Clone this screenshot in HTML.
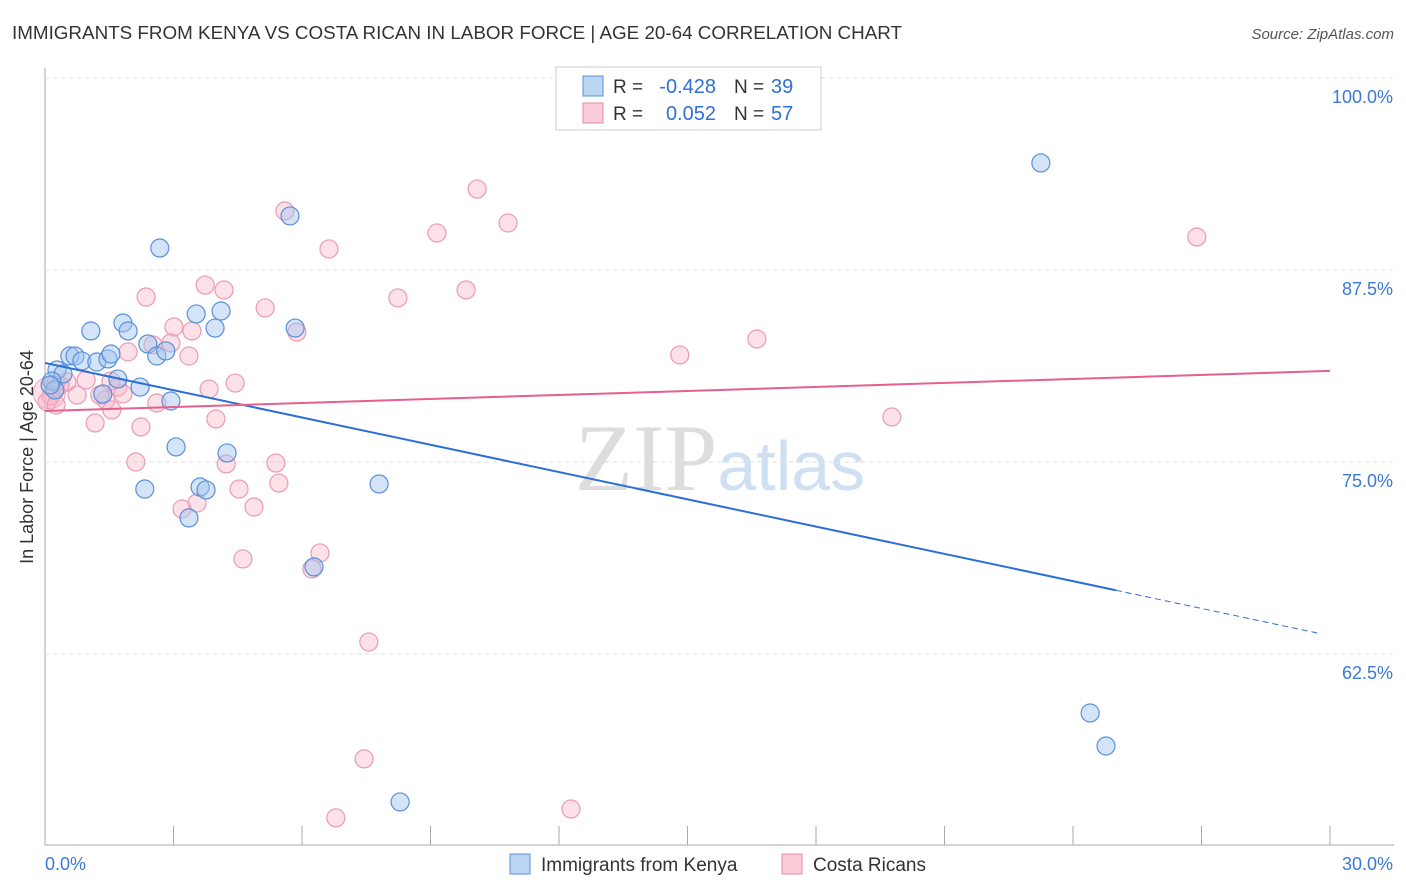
<!DOCTYPE html>
<html><head><meta charset="utf-8"><style>
body{margin:0;background:#fff;font-family:"Liberation Sans",sans-serif}
svg{display:block}
</style></head><body>
<svg id="c" width="1406" height="892">
<text x="12" y="39" font-size="18" fill="#333" textLength="890" lengthAdjust="spacingAndGlyphs">IMMIGRANTS FROM KENYA VS COSTA RICAN IN LABOR FORCE | AGE 20-64 CORRELATION CHART</text>
<text x="1394" y="39" font-size="15" fill="#555" font-style="italic" text-anchor="end">Source: ZipAtlas.com</text>
<text x="720" y="490" font-size="95" fill="#ddd" text-anchor="middle" font-family="Liberation Serif,serif">ZIP<tspan fill="#cfe0f3" font-family="Liberation Sans,sans-serif" font-size="70">atlas</tspan></text>
<g id="grid"></g><g id="pts"></g><g id="lines"></g>
<text transform="translate(33,457) rotate(-90)" font-size="18" fill="#333" text-anchor="middle">In Labor Force | Age 20-64</text>
<g>
<rect x="556" y="67" width="265" height="63" fill="#fff" stroke="#ccc"/>
<rect x="583" y="76" width="20" height="20" fill="#bcd5f5" stroke="#5a8fd8"/>
<rect x="583" y="103" width="20" height="20" fill="#fbcdd9" stroke="#e887a5"/>
<text x="613" y="93" font-size="19" fill="#333">R =</text>
<text x="716" y="93" font-size="20" fill="#2f6fd8" text-anchor="end">-0.428</text>
<text x="734" y="93" font-size="19" fill="#333">N =</text>
<text x="771" y="93" font-size="20" fill="#2f6fd8">39</text>
<text x="613" y="120" font-size="19" fill="#333">R =</text>
<text x="716" y="120" font-size="20" fill="#2f6fd8" text-anchor="end">0.052</text>
<text x="734" y="120" font-size="19" fill="#333">N =</text>
<text x="771" y="120" font-size="20" fill="#2f6fd8">57</text>
</g>
<g>
<rect x="510" y="854" width="20" height="20" fill="#bcd5f5" stroke="#5a8fd8"/>
<text x="541" y="871" font-size="19" fill="#333">Immigrants from Kenya</text>
<rect x="782" y="854" width="20" height="20" fill="#fbcdd9" stroke="#e887a5"/>
<text x="813" y="871" font-size="19" fill="#333">Costa Ricans</text>
</g>
</svg>
<script>
const blueX=[23.25,5.72,2.68,1.07,1.82,1.94,3.53,4.11,3.97,5.84,0.58,0.70,0.86,1.21,1.47,1.54,2.40,2.61,2.82,0.28,0.42,1.70,2.22,1.35,2.94,0.16,0.23,3.06,4.25,2.33,3.62,3.76,3.36,7.80,6.28,8.29,24.40,24.77,0.12];
const blueY=[94.47,91.02,88.93,83.53,84.05,83.53,84.64,84.83,83.72,83.72,81.90,81.90,81.58,81.51,81.71,82.03,82.68,81.90,82.23,80.99,80.73,80.40,79.88,79.43,78.97,80.27,79.69,75.98,75.59,73.24,73.37,73.18,71.36,73.57,68.17,52.87,58.66,56.51,80.01];
const pinkX=[5.60,10.09,10.81,9.15,6.63,26.89,3.74,4.18,2.36,9.83,8.24,5.14,3.01,3.43,5.88,16.62,2.94,2.52,1.94,3.36,14.82,0.26,0.51,0.96,1.54,1.70,4.44,3.83,1.82,0.75,1.42,2.61,1.56,1.17,2.24,3.99,19.77,0.14,0.05,0.26,2.12,4.23,5.39,4.53,5.46,3.20,3.55,4.88,4.62,6.42,6.23,7.56,7.45,12.28,6.79,0.35,1.28];
const pinkY=[91.34,92.77,90.56,89.91,88.87,89.65,86.52,86.20,85.74,86.20,85.68,85.03,83.79,83.53,83.46,83.01,82.75,82.62,82.16,81.90,81.97,80.14,80.21,80.34,80.27,79.88,80.14,79.75,79.43,79.36,79.04,78.84,78.39,77.54,77.28,77.80,77.93,79.30,78.91,78.71,75.00,74.87,74.93,73.24,73.63,71.94,72.33,72.07,68.69,69.08,68.04,63.28,55.67,52.41,51.83,80.01,79.36];
const yTicks=[100,87.5,75,62.5];
const yTickLabels=["100.0%","87.5%","75.0%","62.5%"];
const blueTrend=[81.45,-0.592,25.0,29.8];
const pinkTrend=[78.32,0.087,30];
const NS="http://www.w3.org/2000/svg";
const X=v=>45+v*1285/30, Y=v=>78+(100-v)*192/12.5;
function mk(t,a,p){const e=document.createElementNS(NS,t);for(const k in a)e.setAttribute(k,a[k]);p.appendChild(e);return e;}
const g=document.getElementById('grid');
let ax=mk('line',{x1:45,y1:68,x2:45,y2:845,stroke:'#aaa'},g);


let bx=mk('line',{x1:45,y1:845,x2:1394,y2:845,stroke:'#aaa'},g);


for(let i=0;i<=10;i++){let t=mk('line',{x1:X(i*3),x2:X(i*3),y1:826,y2:845,stroke:'#aaa'},g);

}
yTicks.forEach((v,i)=>{let l=mk('line',{x1:45,x2:1394,y1:Y(v),y2:Y(v),stroke:'#ddd','stroke-dasharray':'4 4'},g);


let t=mk('text',{x:1393,y:Y(v)+25,'font-size':18,fill:'#3b78d8','text-anchor':'end'},g);t.textContent=yTickLabels[i];

});
let x0=mk('text',{x:45,y:870,'font-size':18,fill:'#3b78d8'},g);x0.textContent="0.0%";


let x1=mk('text',{x:1393,y:870,'font-size':18,fill:'#3b78d8','text-anchor':'end'},g);x1.textContent="30.0%";


const p=document.getElementById('pts');
let big=mk('circle',{cx:X(0.1),cy:Y(79.5),r:16,fill:'rgba(246,170,195,0.35)',stroke:'#eea0b8'},p);


pinkX.forEach((v,i)=>{let c=mk('circle',{cx:X(v),cy:Y(pinkY[i]),r:9,fill:'rgba(248,180,200,0.4)',stroke:'#eb9ab4','stroke-width':1.2},p);

});
blueX.forEach((v,i)=>{let c=mk('circle',{cx:X(v),cy:Y(blueY[i]),r:9,fill:'rgba(160,195,240,0.45)',stroke:'#5a8fd8','stroke-width':1.2},p);

});
const L=document.getElementById('lines');
let b1=mk('line',{x1:X(0),y1:Y(blueTrend[0]),x2:X(blueTrend[2]),y2:Y(blueTrend[0]+blueTrend[1]*blueTrend[2]),stroke:'#2a6fd6','stroke-width':2},L);


let b2=mk('line',{x1:X(blueTrend[2]),y1:Y(blueTrend[0]+blueTrend[1]*blueTrend[2]),x2:X(blueTrend[3]),y2:Y(blueTrend[0]+blueTrend[1]*blueTrend[3]),stroke:'#2a6fd6','stroke-width':1,'stroke-dasharray':'6 4'},L);


let pl=mk('line',{x1:X(0),y1:Y(pinkTrend[0]),x2:X(pinkTrend[2]),y2:Y(pinkTrend[0]+pinkTrend[1]*pinkTrend[2]),stroke:'#e5608a','stroke-width':2},L);


</script>
</body></html>
